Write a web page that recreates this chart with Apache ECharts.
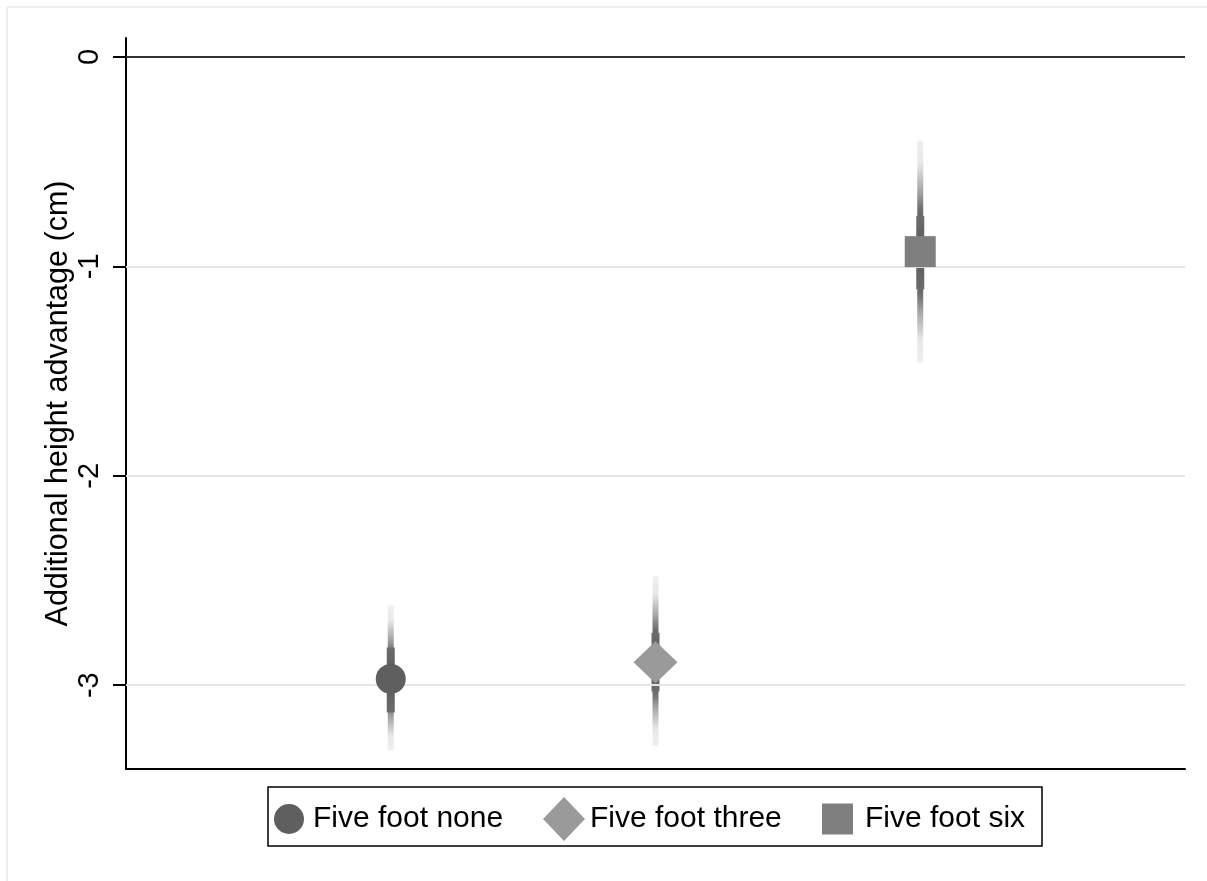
<!DOCTYPE html>
<html>
<head>
<meta charset="utf-8">
<script src="https://cdn.jsdelivr.net/npm/echarts@6/dist/echarts.min.js"></script>
<style>
html,body{margin:0;padding:0;background:#fff;}
#chart{width:1207px;height:881px;}
</style>
</head>
<body>
<div id="chart"></div>
<script>
// ---- data ----
const categories = ['Five foot none', 'Five foot three', 'Five foot six'];
const xPositions = [1, 2, 3];
const estimates = [-2.97, -2.89, -0.93];
const ciLow = [-3.31, -3.29, -1.46];
const ciHigh = [-2.62, -2.48, -0.40];
const innerLow = [-3.13, -3.03, -1.11];
const innerHigh = [-2.82, -2.75, -0.76];
const yTickValues = [-3, -2, -1, 0];
const gridValues = [-1, -2, -3];
const symbols = ['circle', 'diamond', 'rect'];
const symbolSizes = [30, [44, 42], 31];
const markerColors = ['#5f5f5f', '#9a9a9a', '#7f7f7f'];

// legend icon shapes (bounding box padded so text gap matches)
const legendIcons = [
  'path://M0,0M34,30M0,15a15,15 0 1,0 30,0a15,15 0 1,0 -30,0z',
  'path://M21,0L42,22L21,44L0,22z',
  'path://M0,0M38,32M0,0.5h31v31h-31z'
];
const legendIconSizes = [[34, 30], [42, 44], [38, 32]];
const legendLefts = [274, 543, 822];

const FONT = "'Liberation Sans', Arial, sans-serif";

const ciData = xPositions.map((x, i) => [x, estimates[i], ciLow[i], ciHigh[i], innerLow[i], innerHigh[i]]);

function gradStops(f) {
  const up = [[0, '#efefef'], [0.2, '#e8e8e8'], [0.45, '#a8a8a8'], [0.62, '#6e6e6e'], [0.8, '#5e5e5e'], [1, '#5a5a5a']];
  const stops = [];
  up.forEach(([t, c]) => stops.push({ offset: t * f, color: c }));
  up.slice().reverse().forEach(([t, c]) => stops.push({ offset: f + (1 - t) * (1 - f), color: c }));
  return stops;
}

function renderCI(params, api) {
  const x = api.value(0);
  const est = api.coord([x, api.value(1)]);
  const top = api.coord([x, api.value(3)]);
  const bot = api.coord([x, api.value(2)]);
  const iTop = api.coord([x, api.value(5)]);
  const iBot = api.coord([x, api.value(4)]);
  const f = (est[1] - top[1]) / (bot[1] - top[1]);
  const fi = (est[1] - iTop[1]) / (iBot[1] - iTop[1]);
  const innerStops = [
    { offset: 0, color: '#6c6c6c' }, { offset: fi, color: '#585858' }, { offset: 1, color: '#6c6c6c' }
  ];
  return {
    type: 'group',
    children: [
      {
        type: 'rect',
        shape: { x: est[0] - 3, y: top[1], width: 6, height: bot[1] - top[1] },
        style: { fill: { type: 'linear', x: 0, y: 0, x2: 0, y2: 1, colorStops: gradStops(f) } }
      },
      {
        type: 'rect',
        shape: { x: est[0] - 4, y: iTop[1], width: 8, height: iBot[1] - iTop[1] },
        style: { fill: { type: 'linear', x: 0, y: 0, x2: 0, y2: 1, colorStops: innerStops } }
      }
    ]
  };
}

const chart = echarts.init(document.getElementById('chart'), null, { renderer: 'canvas' });

const markerSeries = categories.map((name, i) => ({
  name: name,
  type: 'scatter',
  symbol: symbols[i],
  symbolSize: symbolSizes[i],
  itemStyle: { color: markerColors[i], opacity: 1 },
  z: 5,
  silent: true,
  data: [[xPositions[i], estimates[i]]]
}));

const legends = categories.map((n, i) => ({
  left: legendLefts[i],
  top: 819 - legendIconSizes[i][1] / 2,
  orient: 'horizontal',
  itemWidth: legendIconSizes[i][0],
  itemHeight: legendIconSizes[i][1],
  padding: 0,
  selectedMode: false,
  textStyle: { fontSize: 30, color: '#000', fontFamily: FONT },
  data: [{ name: n, icon: legendIcons[i] }]
}));

const option = {
  backgroundColor: '#ffffff',
  animation: false,
  graphic: [
    { type: 'line', z: -10, silent: true, shape: { x1: 7, y1: 7, x2: 1207, y2: 7 }, style: { stroke: '#ededed', lineWidth: 2 } },
    { type: 'line', z: -10, silent: true, shape: { x1: 7, y1: 7, x2: 7, y2: 881 }, style: { stroke: '#ededed', lineWidth: 2 } },
    { type: 'rect', silent: true, shape: { x: 268, y: 787, width: 774, height: 59 }, style: { fill: 'none', stroke: '#000', lineWidth: 1.5 } }
  ],
  grid: { left: 126, right: 22, top: 38, bottom: 112, containLabel: false },
  xAxis: {
    type: 'value', min: 0, max: 4,
    axisLine: { show: true, onZero: false, lineStyle: { color: '#000', width: 2 } },
    axisTick: { show: false }, axisLabel: { show: false }, splitLine: { show: false }
  },
  yAxis: {
    type: 'value', min: -3.4, max: 0.09,
    name: 'Additional height advantage (cm)',
    nameLocation: 'middle', nameRotate: 90, nameGap: 52, nameMoveOverlap: false,
    nameTextStyle: { fontSize: 30.5, color: '#000', fontFamily: FONT },
    axisLine: { show: true, lineStyle: { color: '#000', width: 2 } },
    axisTick: { show: true, customValues: yTickValues, length: 13, lineStyle: { color: '#000', width: 2 } },
    axisLabel: { show: true, customValues: yTickValues, rotate: 90, margin: 22, fontSize: 29, color: '#000', fontFamily: FONT },
    splitLine: { show: false }
  },
  legend: legends,
  series: [
    {
      type: 'scatter', name: 'gridlines', data: [], silent: true, z: 1,
      markLine: {
        silent: true, symbol: 'none', label: { show: false }, animation: false,
        data: gridValues.map(v => ({ yAxis: v, lineStyle: { color: '#e6e6e6', width: 2, type: 'solid' } }))
          .concat([{ yAxis: 0, lineStyle: { color: '#333', width: 2, type: 'solid' } }])
      }
    },
    {
      type: 'custom', name: 'ci', silent: true, z: 3,
      renderItem: renderCI,
      encode: { x: 0, y: [2, 3] },
      data: ciData
    }
  ].concat(markerSeries)
};

chart.setOption(option);
</script>
</body>
</html>
